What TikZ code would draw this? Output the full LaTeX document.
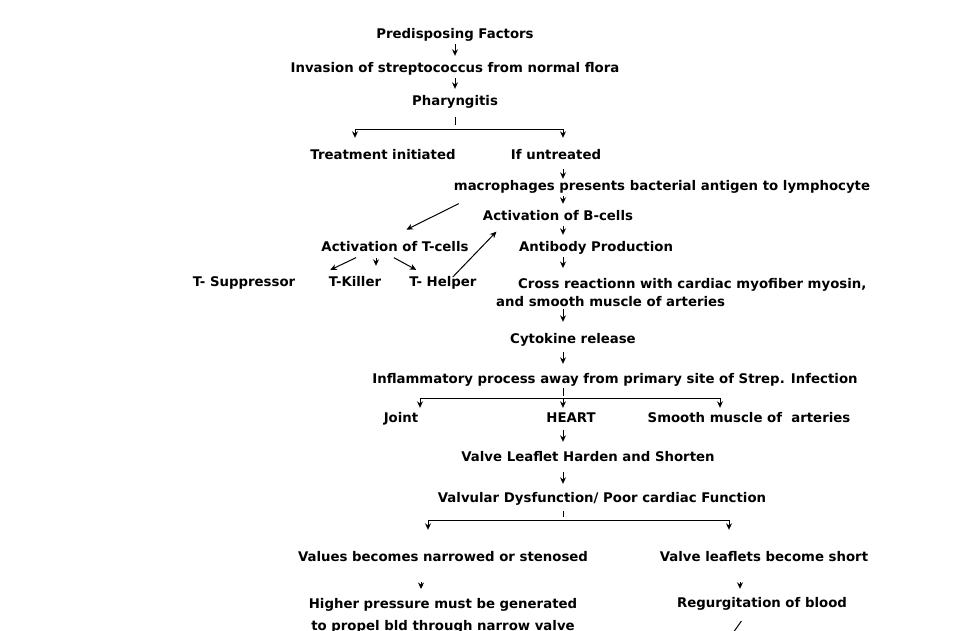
\documentclass[tikz,border=0pt]{standalone}
\usepackage{fontspec}
\setmainfont{DejaVu Sans}
\usetikzlibrary{arrows.meta}
\usetikzlibrary{calc}
\tikzstyle{etape}=[inner sep=2pt,font=\fontsize{13.3}{18}\selectfont\bfseries,text height=9.5pt,text depth=2.5pt]
\tikzstyle{bloc}=[inner sep=2pt,font=\fontsize{13.3}{18}\selectfont\bfseries]
\tikzstyle{suite}=[->,>={Stealth[length=6.5pt,width=6pt]},line width=1pt,shorten <=1pt,shorten >=5pt]
\tikzstyle{branche}=[->,>={Stealth[length=6.5pt,width=6pt]},line width=1pt]
\tikzstyle{trait}=[line width=1pt]

\begin{document}
\begin{tikzpicture}[x=1pt,y=-1pt]
\useasboundingbox (0,0) rectangle (962,630);
\coordinate (spine) at (563,0);
\node[etape] (pre) at (455,35) {Predisposing Factors};
\node[etape] (inv) at (455,69) {Invasion of streptococcus from normal flora};
\node[etape] (phar) at (455,102) {Pharyngitis};
\node[etape] (treat) at (383,156) {Treatment initiated};
\node[etape] (untr) at (556,156) {If untreated};
\node[etape] (macro) at (662,187) {macrophages presents bacterial antigen to lymphocyte};
\node[etape] (bcell) at (558,217) {Activation of B-cells};
\node[etape] (tcell) at (395,248) {Activation of T-cells};
\node[etape] (anti) at (596,248) {Antibody Production};
\node[etape] (tsup) at (244,283) {T- Suppressor};
\node[etape] (tkill) at (355,283) {T-Killer};
\node[etape] (thelp) at (443,283) {T- Helper};
\node[bloc,align=left,anchor=north west] (cross) at (494,276) {\hspace*{22pt}Cross reactionn with cardiac myofiber myosin,\\and smooth muscle of arteries};
\node[etape] (cyto) at (573,340) {Cytokine release};
\node[etape] (infl) at (615,380) {Inflammatory process away from primary site of Strep. Infection};
\node[etape] (joint) at (401,419) {Joint};
\node[etape] (heart) at (571,419) {HEART};
\node[etape] (smooth) at (749,419) {Smooth muscle of~~arteries};
\node[etape] (valve) at (588,458) {Valve Leaflet Harden and Shorten};
\node[etape] (dysf) at (602,499) {Valvular Dysfunction/ Poor cardiac Function};
\node[etape] (narrow) at (443,558) {Values becomes narrowed or stenosed};
\node[etape] (short) at (764,558) {Valve leaflets become short};
\node[bloc,align=center,anchor=north,font=\fontsize{13.3}{22}\selectfont\bfseries] (higher) at (443,596) {Higher pressure must be generated\\to propel bld through narrow valve};
\node[etape] (regurg) at (762,604) {Regurgitation of blood};
\coordinate (hors) at (721,650);
\coordinate (b1) at (355,129);
\coordinate (b1r) at (563,129);
\coordinate (b2) at (420,398);
\coordinate (b2r) at (720,398);
\coordinate (b3) at (428,520);
\coordinate (b3r) at (729,520);
%arrows
\draw[suite] (pre) -- (inv);
\draw[suite] (inv) -- (phar);
\draw[trait] ([yshift=-7pt]phar.south) -- ++(0,8);
\draw[trait] (b1) -- (b1r);
\draw[branche,shorten >=10pt] (b1) -- (treat.north -| b1);
\draw[branche,shorten >=10pt] (b1r) -- (untr.north -| b1r);
\draw[suite,shorten <=5pt,shorten >=0pt] (untr.south -| spine) -- (macro.north -| spine);
\draw[suite] (macro.south -| spine) -- (bcell.north -| spine);
\draw[suite] ([xshift=8pt,yshift=-8pt]macro.south west) -- ([xshift=7pt,yshift=8pt]tcell.north);
\draw[suite] (bcell.south -| spine) -- (anti.north -| spine);
\draw[suite,shorten >=2pt] ([xshift=-38pt,yshift=-1pt]tcell.south) -- ([xshift=31pt,yshift=4pt]tsup.north east);
\draw[suite,shorten >=2pt] ([xshift=-19pt,yshift=-1pt]tcell.south) -- ([xshift=21pt,yshift=7pt]tkill.north);
\draw[suite,shorten >=2pt] ([xshift=-2pt,yshift=-1pt]tcell.south) -- ([xshift=-25pt,yshift=4pt]thelp.north);
\draw[suite,shorten >=2pt] ([xshift=9pt,yshift=-3pt]thelp.north) -- ([xshift=17pt,yshift=-5pt]bcell.south west);
\draw[suite,shorten >=8pt] (anti.south -| spine) -- (cross.north -| spine);
\draw[suite,shorten <=0pt,shorten >=10pt] (cross.south -| spine) -- (cyto.north -| spine);
\draw[suite,shorten <=4pt,shorten >=8pt] (cyto.south -| spine) -- (infl.north -| spine);
\draw[trait] (infl.south -| spine) -- ++(0,8);
\draw[trait] (b2) -- (b2r);
\draw[branche,shorten >=3pt] (b2) -- (joint.north -| b2);
\draw[branche,shorten >=3pt] (b2 -| spine) -- (heart.north -| spine);
\draw[branche,shorten >=3pt] (b2r) -- (smooth.north -| b2r);
\draw[suite,shorten <=3pt,shorten >=8pt] (heart.south -| spine) -- (valve.north -| spine);
\draw[suite,shorten <=6pt,shorten >=7pt] (valve.south -| spine) -- (dysf.north -| spine);
\draw[trait] ([yshift=-4pt]dysf.south -| spine) -- ++(0,6);
\draw[trait] (b3) -- (b3r);
\draw[branche,shorten >=20pt] (b3) -- (narrow.north -| b3);
\draw[branche,shorten >=20pt] (b3r) -- (short.north -| b3r);
\draw[suite,shorten <=16pt,shorten >=7pt] (narrow.south -| 421,0) -- (higher.north -| 421,0);
\draw[suite,shorten <=16pt,shorten >=7pt] (short.south -| 740,0) -- (regurg.north -| 740,0);
\draw[suite] ([xshift=-20pt,yshift=-8pt]regurg.south) -- (hors);
\end{tikzpicture}
\end{document}
